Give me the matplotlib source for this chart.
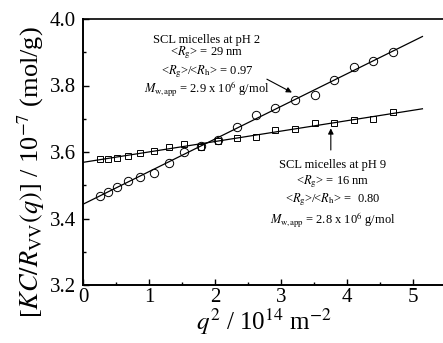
import matplotlib as mpl
import matplotlib.pyplot as plt
import numpy as np

mpl.rcParams.update({
    "font.family": "serif",
    "font.serif": ["Liberation Serif", "DejaVu Serif"],
    "mathtext.fontset": "stix",
    "axes.linewidth": 1.4,
})

# q^2 / 10^14 m^-2 (same grid for both samples)
Q2 = [0.26, 0.38, 0.52, 0.68, 0.87, 1.07, 1.30, 1.53, 1.79, 2.05,
      2.33, 2.62, 2.92, 3.22, 3.52, 3.81, 4.11, 4.40, 4.70]
# KC/Rvv / 10^-7 mol/g
PH2 = [3.468, 3.481, 3.496, 3.514, 3.526, 3.538, 3.566, 3.601, 3.618, 3.636,
       3.676, 3.711, 3.731, 3.756, 3.772, 3.817, 3.855, 3.873, 3.902]
PH9 = [3.578, 3.580, 3.582, 3.589, 3.597, 3.603, 3.614, 3.624, 3.616, 3.632,
       3.643, 3.644, 3.666, 3.668, 3.686, 3.688, 3.696, 3.698, 3.721]
FIT_RANGE = [0.0, 5.15]

PH2_TEXT = ["SCL micelles at pH 2",
            r"<$R_{\mathrm{g}}$> = 29 nm",
            r"<$R_{\mathrm{g}}$>/<$R_{\mathrm{h}}$> = 0.97",
            r"$M_{\mathrm{w{,}app}}$ = 2.9 x 10$^{6}$ g/mol"]
PH9_TEXT = ["SCL micelles at pH 9",
            r"<$R_{\mathrm{g}}$> = 16 nm",
            r"<$R_{\mathrm{g}}$>/<$R_{\mathrm{h}}$> =  0.80",
            r"$M_{\mathrm{w{,}app}}$ = 2.8 x 10$^{6}$ g/mol"]

fig = plt.figure(figsize=(4.43, 3.43), dpi=100)
ax = fig.add_axes([83 / 443, 58 / 343, 362.5 / 443, 266 / 343])

x = np.array(Q2)
xf = np.linspace(*FIT_RANGE, 50)
for y, mk, ms in [(PH2, "o", 6.0), (PH9, "s", 5.0)]:
    y = np.array(y)
    ax.plot(x, y, ls="none", marker=mk, ms=ms, mfc="none", mec="black",
            mew=0.7, zorder=3)
    k, b = np.polyfit(x, y, 1)
    ax.plot(xf, k * xf + b, color="black", lw=0.9, zorder=2)

# arrows pointing to the fit lines
ax.annotate("", xy=(3.17, 3.779), xytext=(2.79, 3.819),
            arrowprops=dict(arrowstyle="-|>", color="black", lw=0.8,
                            mutation_scale=8, shrinkA=0, shrinkB=0))
ax.annotate("", xy=(3.76, 3.671), xytext=(3.76, 3.606),
            arrowprops=dict(arrowstyle="-|>", color="black", lw=0.8,
                            mutation_scale=8, shrinkA=0, shrinkB=0))

for txt, yy in zip(PH2_TEXT, [3.938, 3.898, 3.843, 3.790]):
    ax.text(1.88, yy, txt, ha="center", va="center", fontsize=9)
for txt, yy in zip(PH9_TEXT, [3.561, 3.510, 3.456, 3.394]):
    ax.text(3.79, yy, txt, ha="center", va="center", fontsize=9)

ax.set_xlim(0, 5.5)
ax.set_ylim(3.2, 4.0)
ax.set_xticks([0, 1, 2, 3, 4, 5])
ax.set_xticks(np.arange(0.5, 5.5, 1.0), minor=True)
ax.set_yticks([3.2, 3.4, 3.6, 3.8, 4.0])
ax.set_yticks([3.3, 3.5, 3.7, 3.9], minor=True)
ax.tick_params(which="both", direction="in", top=False, right=False,
               labelsize=15, width=1.0)
ax.tick_params(which="major", length=4)
ax.tick_params(which="minor", length=2.5)
ax.tick_params(axis="x", pad=2)
ax.tick_params(axis="y", pad=5)
ax.spines["right"].set_visible(False)
ax.spines["top"].set_linewidth(1.2)

ax.set_xlabel(r"$q^{2}$ / 10$^{14}$ m$^{-2}$", fontsize=18, labelpad=0)
fig.text(31 / 443, 1 - 172 / 343,
         r"[$KC/R_{\mathrm{VV}}(q)$] / 10$^{-7}$ (mol/g)",
         rotation=90, ha="center", va="center", fontsize=19)

fig.savefig("out.png", dpi=100)
